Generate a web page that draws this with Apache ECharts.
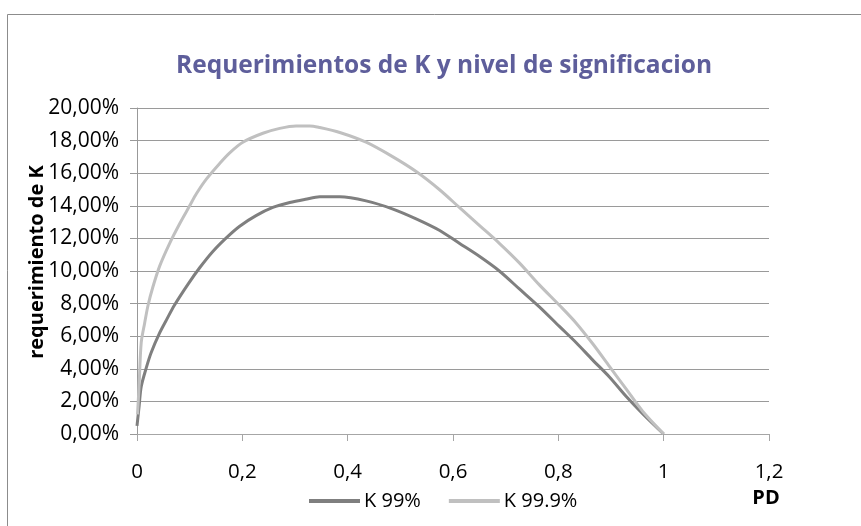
<!DOCTYPE html>
<html>
<head>
<meta charset="utf-8">
<script src="https://cdn.jsdelivr.net/npm/echarts@6/dist/echarts.min.js"></script>
<style>
html,body{margin:0;padding:0;background:#fff;}
#chart{width:861px;height:526px;}
</style>
</head>
<body>
<div id="chart"></div>
<script>
var titleText = 'Requerimientos de K y nivel de significacion';
var yAxisName = 'requerimiento de K';
var xAxisName = 'PD';
var seriesNames = ['K 99%', 'K 99.9%'];

// PD values and K (%)
var pd99 =  [0, 0.004, 0.008, 0.018, 0.027, 0.043, 0.056, 0.071, 0.097, 0.119, 0.144, 0.170, 0.195, 0.226, 0.258, 0.290, 0.320, 0.347, 0.385, 0.435, 0.486, 0.530, 0.574, 0.612, 0.650, 0.688, 0.726, 0.764, 0.802, 0.834, 0.865, 0.897, 0.929, 0.960, 1.0];
var k99 =   [0.5, 1.7, 2.9, 4.1, 5.0, 6.2, 7.0, 7.9, 9.2, 10.2, 11.2, 12.05, 12.75, 13.4, 13.9, 14.2, 14.4, 14.55, 14.55, 14.3, 13.8, 13.2, 12.5, 11.7, 10.9, 10.0, 8.9, 7.8, 6.6, 5.6, 4.55, 3.5, 2.3, 1.25, 0];
var pd999 = [0.001, 0.004, 0.008, 0.0145, 0.021, 0.030, 0.043, 0.062, 0.081, 0.100, 0.113, 0.132, 0.157, 0.176, 0.201, 0.239, 0.271, 0.302, 0.328, 0.347, 0.385, 0.435, 0.486, 0.530, 0.574, 0.612, 0.650, 0.688, 0.726, 0.764, 0.802, 0.834, 0.865, 0.897, 0.929, 0.960, 1.0];
var k999 =  [1.2, 3.0, 5.6, 6.8, 7.9, 9.0, 10.3, 11.7, 12.9, 14.0, 14.75, 15.65, 16.6, 17.25, 17.9, 18.45, 18.75, 18.9, 18.9, 18.8, 18.5, 17.9, 17.0, 16.1, 15.0, 13.9, 12.8, 11.7, 10.5, 9.15, 7.9, 6.8, 5.55, 4.15, 2.75, 1.4, 0];

var font = 'Open Sans';
function pairs(xs, ys){ return xs.map(function(x,i){ return [x, ys[i]]; }); }

var chart = echarts.init(document.getElementById('chart'));
chart.setOption({
  animation: false,
  backgroundColor: '#fff',
  title: {
    text: titleText,
    left: 439, top: 49, textAlign: 'center',
    textStyle: {fontFamily: font, fontWeight: 'bold', fontSize: 24.5, color: '#5e5e9b'}
  },
  graphic: [
    {type: 'rect', shape: {x: 7.5, y: 14.5, width: 900, height: 600}, style: {fill: 'none', stroke: '#8c8c8c', lineWidth: 1}, z: -1},
    {type: 'text', x: 766, y: 498, style: {text: xAxisName, font: 'bold 20px "Open Sans"', fill: '#000', align: 'center', verticalAlign: 'middle'}},
    {type: 'text', x: 37, y: 262, rotation: Math.PI / 2, style: {text: yAxisName, font: 'bold 20px "Open Sans"', fill: '#000', align: 'center', verticalAlign: 'middle'}}
  ],
  legend: {
    left: 304, top: 486,
    itemWidth: 51, itemHeight: 4, itemGap: 28,
    icon: 'rect',
    textStyle: {fontFamily: font, fontSize: 20, color: '#000', padding: [0,0,0,-1]},
    data: seriesNames
  },
  grid: {left: 137, right: 92, top: 108, bottom: 92, containLabel: false},
  xAxis: {
    type: 'value', min: 0, max: 1.2, interval: 0.2,
    axisLine: {lineStyle: {color: '#a6a6a6'}},
    axisTick: {show: true, length: 7, lineStyle: {color: '#a6a6a6'}},
    splitLine: {show: false},
    axisLabel: {margin: 28, fontFamily: font, fontSize: 20.5, color: '#000',
      formatter: function(v){ return String(Math.round(v*10)/10).replace('.', ','); }}
  },
  yAxis: {
    type: 'value', min: 0, max: 20, interval: 2,
    axisLine: {show: true, lineStyle: {color: '#999'}},
    axisTick: {show: true, length: 7, lineStyle: {color: '#999'}},
    splitLine: {lineStyle: {color: '#9a9a9a'}},
    axisLabel: {margin: 18, fontFamily: font, fontSize: 21, color: '#000',
      formatter: function(v){ return v.toFixed(2).replace('.', ',') + '%'; }}
  },
  series: [
    {name: seriesNames[0], type: 'line', data: pairs(pd99, k99), smooth: 0.3, showSymbol: false,
     lineStyle: {color: '#7f7f7f', width: 3}, itemStyle: {color: '#7f7f7f'}},
    {name: seriesNames[1], type: 'line', data: pairs(pd999, k999), smooth: 0.3, showSymbol: false,
     lineStyle: {color: '#c0c0c0', width: 3}, itemStyle: {color: '#c0c0c0'}}
  ]
});
</script>
</body>
</html>
